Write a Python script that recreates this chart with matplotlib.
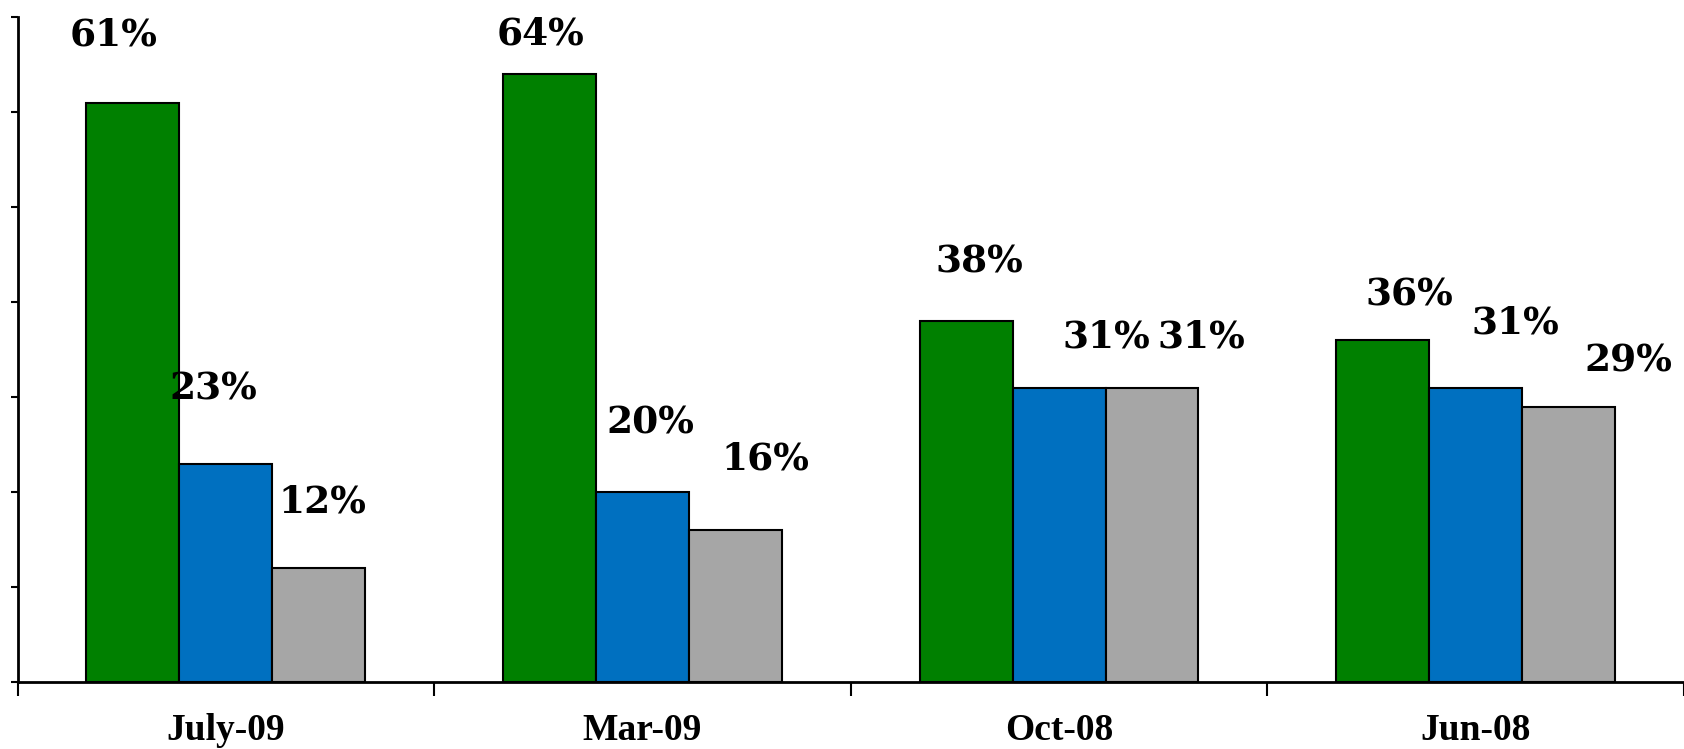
import matplotlib.pyplot as plt
import numpy as np

categories = ["July-09", "Mar-09", "Oct-08", "Jun-08"]
series_green = [61, 64, 38, 36]
series_blue = [23, 20, 31, 31]
series_gray = [12, 16, 31, 29]

colors = ["#008000", "#0070C0", "#A6A6A6"]

# label offsets (pixels) from top of each bar, by series then category
label_offsets = [
    [(-19, 68), (-9, 40), (13, 59), (27, 45)],
    [(-12, 74), (8, 69), (47, 50), (40, 64)],
    [(4, 66), (30, 71), (49, 50), (60, 46)],
]

fig = plt.figure(figsize=(16.84, 7.49), dpi=100)
left = 17.5 / 1684
ax = fig.add_axes([left, 67 / 749, 1 - left, (682 - 17) / 749])

x = np.arange(len(categories))
w = 0.223
for i, vals in enumerate([series_green, series_blue, series_gray]):
    pos = x + (i - 1) * w
    ax.bar(pos, vals, width=w, color=colors[i], edgecolor="black", linewidth=1.5, zorder=3)
    for j, v in enumerate(vals):
        dx, dy = label_offsets[i][j]
        ax.annotate(f"{v}%", (pos[j], v), xytext=(dx, dy), textcoords="offset pixels",
                    ha="center", va="center", fontsize=27, fontweight="bold",
                    family="DejaVu Serif", annotation_clip=False)

ax.set_ylim(0, 70)
ax.set_xlim(-0.5, -0.5 + (1684 - 17.5) / 421)
ax.set_yticks(np.arange(0, 71, 10))
ax.set_yticklabels([])
ax.tick_params(axis="y", length=5, width=1.5, direction="out")

ax.set_xticks(x)
ax.set_xticklabels(categories, fontsize=27, fontweight="bold", family="Liberation Serif")
ax.set_xticks(np.arange(-0.5, len(categories), 1), minor=True)
ax.tick_params(axis="x", which="major", length=0, pad=22)
ax.tick_params(axis="x", which="minor", length=10, width=1.5, direction="out")

for s in ["top", "right"]:
    ax.spines[s].set_visible(False)
ax.spines["left"].set_linewidth(2)
ax.spines["bottom"].set_linewidth(2)

plt.savefig("out.png", dpi=100)
